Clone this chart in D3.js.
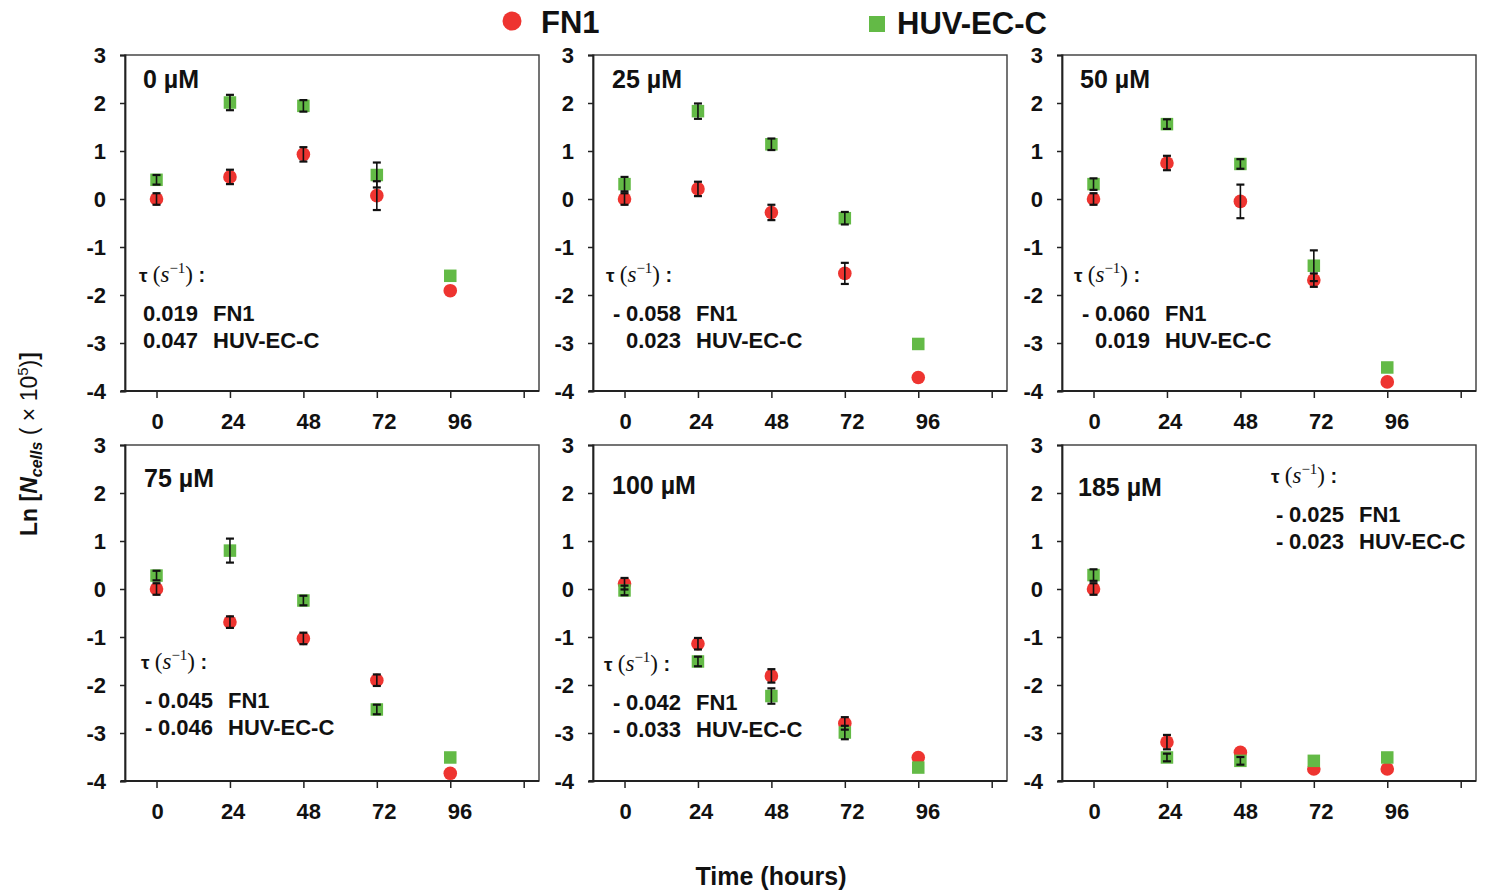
<!DOCTYPE html>
<html>
<head>
<meta charset="utf-8">
<script src="https://cdn.jsdelivr.net/npm/d3@7"></script>
<style>
  html, body { margin: 0; padding: 0; background: #ffffff; }
  svg { display: block; }
  text { font-family: "Liberation Sans", Arial, sans-serif; fill: #111; }
</style>
</head>
<body>
<svg id="chart" width="1486" height="894"></svg>
<script>
// ---------------- data ----------------
const timePoints = [0, 24, 48, 72, 96];
const xTicks = [0, 24, 48, 72, 96, 120];
const xTickLabels = ["0", "24", "48", "72", "96", ""];
const yTicks = [3, 2, 1, 0, -1, -2, -3, -4];
const concentrations = ["0 µM", "25 µM", "50 µM", "75 µM", "100 µM", "185 µM"];
const seriesNames = ["FN1", "HUV-EC-C"];

const fn1Values = [
  [0.00, 0.46, 0.93, 0.07, -1.91],
  [0.00, 0.21, -0.28, -1.55, -3.72],
  [0.00, 0.75, -0.05, -1.69, -3.81],
  [0.00, -0.69, -1.03, -1.90, -3.84],
  [0.11, -1.14, -1.81, -2.80, -3.51],
  [0.00, -3.19, -3.40, -3.75, -3.75]
];
const fn1Errors = [
  [0.12, 0.15, 0.15, 0.30, 0],
  [0.12, 0.15, 0.16, 0.22, 0],
  [0.12, 0.15, 0.35, 0.14, 0],
  [0.12, 0.12, 0.12, 0.12, 0],
  [0.12, 0.12, 0.14, 0.13, 0],
  [0.12, 0.15, 0, 0, 0]
];
const huvValues = [
  [0.40, 2.01, 1.94, 0.50, -1.60],
  [0.31, 1.83, 1.14, -0.40, -3.02],
  [0.31, 1.56, 0.73, -1.39, -3.51],
  [0.28, 0.80, -0.24, -2.51, -3.51],
  [-0.03, -1.51, -2.23, -2.99, -3.72],
  [0.29, -3.51, -3.58, -3.58, -3.51]
];
const huvErrors = [
  [0.10, 0.16, 0.12, 0.26, 0],
  [0.15, 0.16, 0.12, 0.13, 0],
  [0.12, 0.10, 0.10, 0.32, 0],
  [0.10, 0.25, 0.10, 0.10, 0],
  [0.10, 0.10, 0.16, 0.14, 0],
  [0.12, 0.08, 0.08, 0, 0]
];
const fn1Rates = [0.019, -0.058, -0.060, -0.045, -0.042, -0.025];
const huvRates = [0.047, 0.023, 0.019, -0.046, -0.033, -0.023];

// ---------------- layout ----------------
const RED = "#EE3430";
const GREEN = "#63BA46";
const svg = d3.select("#chart");
const panelLefts = [125, 593, 1062];
const panelTops = [55, 445];
const panelW = 414, panelH = 336;
const titleOffsetX = [18, 19, 18, 19, 19, 16];
const titleOffsetY = [33, 33, 33, 42, 49, 51];
const tauX = [14, 13, 12, 16, 11, 209];
const tauY = [227, 227, 227, 224, 226, 38];
const signOff = [6, 7, 8, 4, 9, 5];

const x = d3.scaleLinear().domain([-10.3, 125]).range([0, panelW]);
const y = d3.scaleLinear().domain([-4, 3]).range([panelH, 0]);
const SERIF = "'Liberation Serif', 'DejaVu Serif', serif";

concentrations.forEach((label, p) => {
  const col = p % 3, row = Math.floor(p / 3);
  const g = svg.append("g").attr("transform", `translate(${panelLefts[col]},${panelTops[row]})`);

  // frame
  g.append("rect").attr("x", 0).attr("y", 0).attr("width", panelW).attr("height", panelH)
    .attr("fill", "none").attr("stroke", "#3a3a3a").attr("stroke-width", 1.4);

  // y axis
  const yAxis = d3.axisLeft(y).tickValues(yTicks).tickSize(5).tickPadding(14).tickFormat(d => d < 0 ? "-" + Math.abs(d) : d);
  const ya = g.append("g").call(yAxis);
  ya.select(".domain").attr("stroke", "#222").attr("stroke-width", 1.8);
  ya.selectAll(".tick line").attr("stroke", "#222").attr("stroke-width", 1.5);
  ya.selectAll(".tick text").attr("font-size", 22).attr("font-weight", "bold")
    .attr("font-family", "'Liberation Sans', Arial, sans-serif").attr("fill", "#111").attr("dy", "0.36em");

  // x axis
  const xAxis = d3.axisBottom(x).tickValues(xTicks).tickSize(7).tickPadding(0)
    .tickFormat((d, i) => xTickLabels[i]);
  const xa = g.append("g").attr("transform", `translate(0,${panelH})`).call(xAxis);
  xa.select(".domain").attr("stroke", "#222").attr("stroke-width", 1.8)
    .attr("d", `M-4,0H${panelW}`);
  xa.selectAll(".tick line").attr("stroke", "#222").attr("stroke-width", 1.5);
  xa.selectAll(".tick text").attr("font-size", 22).attr("font-weight", "bold")
    .attr("font-family", "'Liberation Sans', Arial, sans-serif").attr("fill", "#111")
    .attr("y", 38).attr("dy", 0)
    .attr("dx", d => 0.5 + d * 0.09);

  // panel title
  g.append("text").attr("x", titleOffsetX[p]).attr("y", titleOffsetY[p])
    .attr("font-size", 25).attr("font-weight", "bold").text(label);

  // markers: FN1 circles then HUV squares
  g.selectAll("circle.fn1").data(timePoints).enter().append("circle")
    .attr("class", "fn1")
    .attr("cx", d => x(d)).attr("cy", (d, i) => y(fn1Values[p][i])).attr("r", 6.8)
    .attr("fill", RED);
  const sq = 12.5;
  g.selectAll("rect.huv").data(timePoints).enter().append("rect")
    .attr("class", "huv")
    .attr("x", d => x(d) - sq / 2).attr("y", (d, i) => y(huvValues[p][i]) - sq / 2)
    .attr("width", sq).attr("height", sq).attr("fill", GREEN);

  // error bars
  const drawErr = (vals, errs) => {
    timePoints.forEach((t, i) => {
      const e = errs[p][i];
      if (!e) return;
      const cx = x(t), y1 = y(vals[p][i] + e), y2 = y(vals[p][i] - e);
      const eg = g.append("g").attr("stroke", "#111").attr("stroke-width", 1.6);
      eg.append("line").attr("x1", cx).attr("x2", cx).attr("y1", y1).attr("y2", y2);
      eg.append("line").attr("x1", cx - 4).attr("x2", cx + 4).attr("y1", y1).attr("y2", y1).attr("stroke-width", 2.2);
      eg.append("line").attr("x1", cx - 4).attr("x2", cx + 4).attr("y1", y2).attr("y2", y2).attr("stroke-width", 2.2);
    });
  };
  drawErr(huvValues, huvErrors);
  drawErr(fn1Values, fn1Errors);

  // tau annotation
  const tx = tauX[p], ty = tauY[p];
  const tau = g.append("text").attr("x", tx).attr("y", ty).attr("font-size", 20);
  tau.append("tspan").attr("font-weight", "bold").attr("font-size", 19).text("τ ");
  tau.append("tspan").attr("font-family", SERIF).attr("font-size", 23).text("(");
  tau.append("tspan").attr("font-family", SERIF).attr("font-style", "italic").attr("font-size", 23).text("s");
  tau.append("tspan").attr("font-family", SERIF).attr("font-size", 15).attr("dy", -9).text("−1");
  tau.append("tspan").attr("font-family", SERIF).attr("font-size", 23).attr("dy", 9).text(")");
  tau.append("tspan").attr("font-weight", "bold").attr("font-size", 20).text(" :");

  const rates = [fn1Rates[p], huvRates[p]];
  const hasNeg = rates.some(r => r < 0);
  const signX = tx + signOff[p];
  const numX = hasNeg ? signX + 13 : tx + 4;
  rates.forEach((r, k) => {
    const ly = ty + (k === 0 ? 39 : 66);
    if (r < 0) {
      g.append("text").attr("x", signX).attr("y", ly).attr("font-size", 22).attr("font-weight", "bold").text("-");
    }
    g.append("text").attr("x", numX).attr("y", ly).attr("font-size", 22).attr("font-weight", "bold")
      .text(Math.abs(r).toFixed(3));
    g.append("text").attr("x", numX + 70).attr("y", ly).attr("font-size", 22).attr("font-weight", "bold")
      .text(seriesNames[k]);
  });
});

// legend
const legend = svg.append("g");
legend.append("circle").attr("cx", 512).attr("cy", 21).attr("r", 9.5).attr("fill", RED);
legend.append("text").attr("x", 541).attr("y", 33).attr("font-size", 31).attr("font-weight", "bold").text(seriesNames[0]);
legend.append("rect").attr("x", 869).attr("y", 16).attr("width", 16).attr("height", 16).attr("fill", GREEN);
legend.append("text").attr("x", 897).attr("y", 34).attr("font-size", 31).attr("font-weight", "bold").text(seriesNames[1]);

// axis titles
svg.append("text").attr("x", 771).attr("y", 885).attr("text-anchor", "middle")
  .attr("font-size", 25).attr("font-weight", "bold").text("Time (hours)");

const yt = svg.append("text").attr("transform", "translate(37,444) rotate(-90)")
  .attr("text-anchor", "middle").attr("font-size", 23).attr("font-weight", "bold");
yt.append("tspan").text("Ln [");
yt.append("tspan").attr("font-style", "italic").text("N");
yt.append("tspan").attr("font-style", "italic").attr("font-size", 16).attr("dy", 5).text("cells");
yt.append("tspan").attr("font-weight", "normal").attr("dy", -5).text(" ( × 10");
yt.append("tspan").attr("font-weight", "normal").attr("font-size", 15).attr("dy", -9).text("5");
yt.append("tspan").attr("font-weight", "normal").attr("dy", 9).text(")");
yt.append("tspan").text("]");
</script>
</body>
</html>
